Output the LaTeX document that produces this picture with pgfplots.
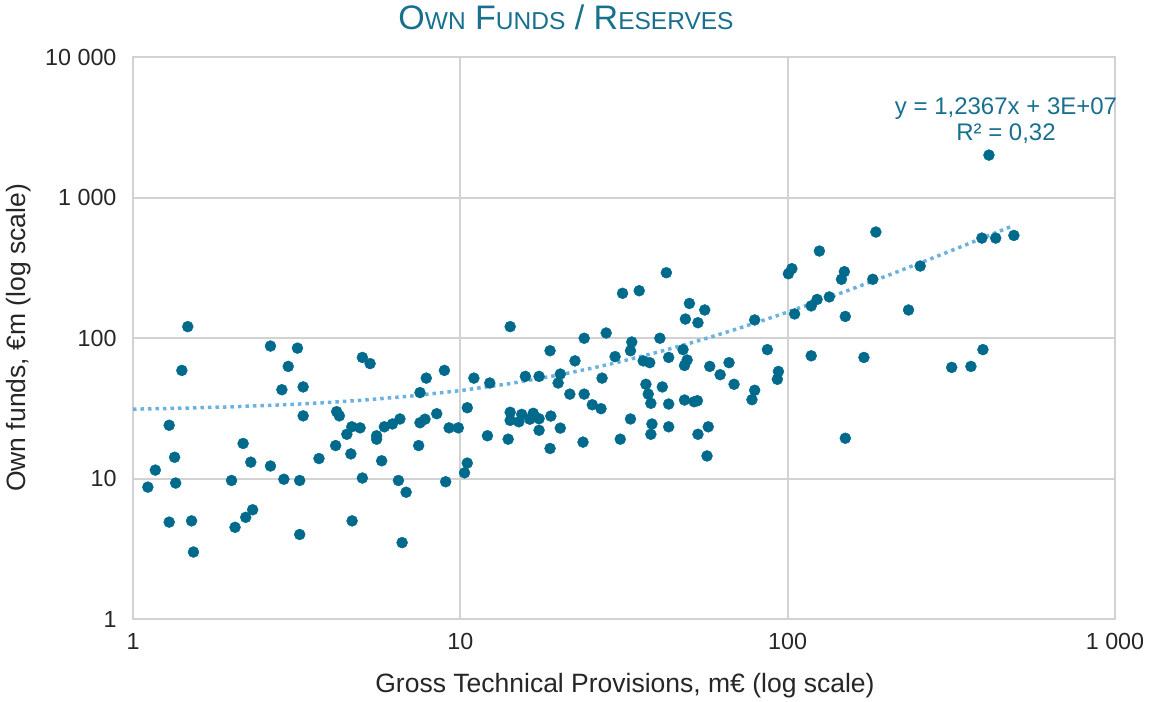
\documentclass[border=0pt]{standalone}
\usepackage{pgfplots}
\pgfplotsset{compat=1.18}
\usepackage{fontspec}
\setmainfont{Liberation Sans}
\definecolor{ptcol}{RGB}{0,106,140}
\definecolor{titcol}{RGB}{24,112,142}
\definecolor{trendcol}{RGB}{108,178,224}
\definecolor{gridcol}{RGB}{210,210,210}
\definecolor{tickcol}{RGB}{38,38,38}
\pgfplotstableread{
x y
1.47 121
1.41 59
2.63 88
3.18 85
2.98 63
2.85 43
3.31 45
3.31 28
5.02 73
5.30 66
7.87 52
8.94 59
7.53 41
4.19 30
4.27 28
10.5 32
1.29 24
8.47 29
7.53 25
7.80 26.5
4.66 23.4
4.94 23
4.50 20.7
5.55 20.2
5.55 19.1
5.86 23.4
6.20 24.5
6.54 26.6
9.24 23
9.86 23
2.17 17.8
4.16 17.2
7.46 17.2
1.34 14.2
2.29 13.1
2.63 12.3
3.70 13.9
4.63 15.0
5.75 13.4
1.17 11.5
10.5 12.9
10.3 11.0
1.11 8.7
1.35 9.3
2.00 9.7
2.89 9.9
3.23 9.7
5.02 10.1
6.47 9.7
6.83 8.0
9.02 9.5
1.29 4.9
1.51 5.0
2.05 4.5
2.21 5.3
2.32 6.0
4.67 5.0
3.23 4.0
6.64 3.5
1.53 3.0
42.6 293
31.3 209
35.2 218
50.1 177
55.8 159
48.7 137
53.2 129
14.2 121
79.3 135
23.9 100
27.9 109
33.4 94
40.7 100
86.7 83
18.8 81.5
33.1 81.5
47.9 83
29.7 74
43.3 73
22.4 69
36.2 69
37.9 67
49.3 70
48.4 64
57.8 63
66.2 67
11.0 52
12.3 48
15.8 53.5
17.4 53.5
20.2 55.6
19.9 48
27.1 52
62.2 55
68.6 47
93.7 58
93.0 51
36.9 47
41.4 45
21.6 40
23.9 40
37.5 40
38.2 34.4
25.3 33.6
26.9 31.5
43.3 34
48.4 36.3
51.8 35.3
53.0 35.9
79.3 42.6
77.8 36.5
14.2 29.7
14.2 26
15.1 25.4
15.4 28.7
16.3 26.5
16.7 29.2
17.4 26.7
18.9 27.9
12.1 20.2
14.0 19.1
17.4 22.1
18.8 16.4
20.2 22.9
23.7 18.2
30.8 19.1
33.1 26.6
38.5 24.5
38.2 20.7
43.3 23.4
53.2 20.7
57.2 23.4
56.7 14.5
412 2017
186 571
125 418
103 313
100.5 288
149 298
146 263
182 263
254 327
392 517
432 517
491 540
123 189
118 170
134 197
105 149
150 143
234 159
118 75
171 73
317 62
363 63
395 83
150 19.4
}\scatterdata
\pgfplotstableread{
x y
1 31.24
1.5 31.86
2 32.47
3 33.71
4 34.95
5 36.18
7 38.66
10 42.37
14 47.31
20 54.73
25 60.92
30 67.10
40 79.47
50 91.84
60 104.20
70 116.57
85 135.12
100 153.67
125 184.59
150 215.51
200 277.34
250 339.18
300 401.01
350 462.85
400 524.68
480 623.62
}\trenddata
\begin{document}
\begin{tikzpicture}
\path[use as bounding box] (0bp,0bp) rectangle (1153bp,702bp);
\begin{axis}[
  at={(133bp,83bp)}, anchor=south west,
  scale only axis, width=982bp, height=561.5bp,
  xmode=log, ymode=log,
  xmin=1, xmax=1000, ymin=1, ymax=10000,
  xtick={1,10,100,1000}, xticklabels={1,10,100,1 000},
  ytick={1,10,100,1000,10000}, yticklabels={1,10,100,1 000,10 000},
  major tick length=0pt, minor tick length=0pt,
  grid=major,
  major grid style={draw=gridcol, line width=2bp},
  axis line style={draw=gridcol, line width=2bp},
  ticklabel style={font=\fontsize{23.3bp}{27bp}\selectfont, text=tickcol},
  xticklabel style={yshift=-11bp},
  yticklabel style={xshift=-13bp},
]
\addplot[only marks, mark=*, mark size=5.5bp, mark options={fill=ptcol, draw=ptcol}] table[x=x,y=y] {\scatterdata};
\addplot[no marks, trendcol, line width=3.5bp, dash pattern=on 3.5bp off 4bp] table[x=x,y=y] {\trenddata};
\end{axis}
\node[text=titcol, font=\fontsize{34bp}{38bp}\selectfont] at (566bp,685bp)
  {O{\fontsize{24.5bp}{28bp}\selectfont WN} F{\fontsize{24.5bp}{28bp}\selectfont UNDS} / R{\fontsize{24.5bp}{28bp}\selectfont ESERVES}};
\node[text=tickcol, font=\fontsize{26.5bp}{30bp}\selectfont] at (625bp,16bp) {Gross Technical Provisions, m€ (log scale)};
\node[text=tickcol, font=\fontsize{26.5bp}{30bp}\selectfont, rotate=90] at (19bp,364bp) {Own funds, €m (log scale)};
\node[text=titcol, font=\fontsize{24bp}{27bp}\selectfont, align=center] at (1006bp,581bp) {y = 1,2367x + 3E+07\\[-1bp]R² = 0,32};
\end{tikzpicture}
\end{document}
